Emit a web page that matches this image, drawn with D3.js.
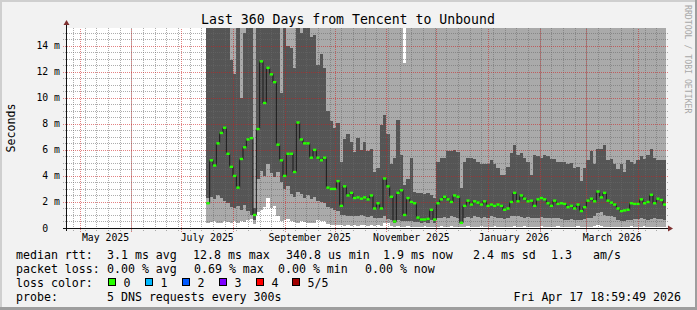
<!DOCTYPE html>
<html lang="en">
<head>
<meta charset="utf-8">
<title>Last 360 Days from Tencent to Unbound</title>
<script src="https://cdn.jsdelivr.net/npm/d3@7"></script>
<style>
  body { margin: 0; background: #f2f2f2; }
  svg { display: block; }
  text { font-family: "DejaVu Sans Mono", monospace; fill: #000; white-space: pre; }
</style>
</head>
<body>
<script>
// one consolidated point every 2 days, first one on 16 Jul 2025
var seriesStart = Date.UTC(2025, 6, 16);
var stepDays = 2;

// median rtt (ms)
var medianRtt = [
  1.9, 5.2, 4.8, 6.5, 7.3, 7.7, 5.7, 4.7, 4.0, 3.1,
  5.3, 6.2, 6.8, 6.9, 1.0, 7.6, 12.8, 9.6, 12.3, 11.8,
  11.2, 6.4, 5.2, 4.0, 5.7, 5.7, 4.3, 8.1, 6.8, 6.5,
  6.5, 5.4, 6.0, 5.4, 5.2, 5.4, 3.1, 3.0, 3.0, 3.6,
  1.7, 3.2, 2.5, 2.7, 2.3, 2.35, 2.25, 2.35, 2.2, 2.5,
  1.5, 1.9, 1.5, 3.8, 3.2, 2.4, 0.5, 2.7, 2.9, 1.0,
  2.3, 2.0, 1.9, 0.8, 0.65, 0.65, 0.7, 1.4, 0.65, 1.9,
  2.2, 2.4, 2.2, 2.0, 2.5, 2.4, 0.4, 1.7, 2.1, 1.8,
  2.05, 1.95, 1.8, 2.05, 1.7, 1.8, 1.7, 1.8, 1.7, 1.4,
  1.5, 2.0, 2.7, 2.05, 2.5, 2.25, 2.05, 2.1, 1.7, 2.2,
  2.3, 2.2, 1.9, 1.7, 2.1, 1.85, 1.9, 1.85, 1.6, 1.7,
  1.5, 1.8, 1.3, 1.6, 2.1, 2.25, 2.05, 2.8, 2.35, 2.7,
  2.1, 1.95, 1.8, 1.5, 1.3, 1.35, 1.4, 1.9, 1.85, 1.85,
  2.2, 1.9, 2.0, 2.55, 1.9, 2.25, 2.15, 1.8
];

// smoke: sorted pings 1, 2, 4, 5 (ms)
var ping1 = [
  0.4, 0.45, 0.5, 0.4, 0.35, 0.5, 0.45, 0.4, 0.55, 0.4,
  0.5, 0.45, 0.6, 0.7, 0.3, 1.2, 1.4, 1.6, 2.3, 1.5,
  1.7, 0.9, 0.5, 0.6, 0.7, 0.5, 0.45, 0.4, 0.5, 0.45,
  0.4, 0.35, 0.4, 0.6, 0.55, 0.5, 0.3, 0.25, 0.2, 0.25,
  0.2, 0.15, 0.2, 0.15, 0.2, 0.15, 0.2, 0.2, 0.15, 0.2,
  0.15, 0.2, 0.15, 0.4, 0.35, 0.15, 0.1, 0.15, 0.1, 0.1,
  0.15, 0.1, 0.1, 0.1, 0.1, 0.15, 0.1, 0.1, 0.1, 0.1,
  0.15, 0.1, 0.1, 0.15, 0.1, 0.1, 0.05, 0.1, 0.15, 0.1,
  0.1, 0.1, 0.15, 0.1, 0.1, 0.1, 0.15, 0.1, 0.1, 0.05,
  0.1, 0.1, 0.15, 0.1, 0.1, 0.15, 0.1, 0.1, 0.1, 0.1,
  0.15, 0.1, 0.1, 0.1, 0.1, 0.15, 0.1, 0.1, 0.1, 0.1,
  0.1, 0.15, 0.1, 0.1, 0.1, 0.1, 0.15, 0.2, 0.15, 0.1,
  0.1, 0.1, 0.1, 0.1, 0.1, 0.1, 0.1, 0.15, 0.1, 0.1,
  0.1, 0.15, 0.1, 0.1, 0.1, 0.1, 0.1, 0.1
];
var ping2 = [
  2.3, 2.4, 2.2, 2.5, 2.3, 2.1, 1.9, 1.6, 1.5, 1.7,
  1.4, 1.8, 1.3, 1.0, 0.6, 3.8, 4.4, 4.0, 4.9, 4.2,
  3.9, 4.3, 3.5, 3.0, 3.2, 2.6, 2.4, 2.8, 2.6, 2.3,
  2.5, 2.2, 2.4, 2.1, 2.0, 1.9, 1.6, 1.5, 1.4, 1.3,
  1.0, 1.0, 0.9, 0.9, 0.95, 0.9, 1.0, 0.9, 0.85, 0.9,
  0.8, 0.75, 0.8, 0.9, 0.7, 0.6, 0.35, 0.6, 0.55, 0.5,
  0.55, 0.5, 0.45, 0.45, 0.4, 0.45, 0.4, 0.6, 0.4, 0.8,
  0.8, 0.85, 0.8, 0.9, 0.85, 0.8, 0.35, 0.8, 0.85, 0.8,
  0.9, 0.85, 0.8, 0.85, 0.8, 0.9, 0.85, 0.8, 0.75, 0.7,
  0.75, 0.9, 0.95, 0.9, 0.85, 0.8, 0.85, 0.8, 0.75, 0.8,
  0.85, 0.8, 0.8, 0.8, 0.8, 0.75, 0.7, 0.65, 0.65, 0.7,
  0.65, 0.6, 0.65, 0.7, 0.75, 0.8, 0.9, 1.15, 1.2, 1.0,
  0.9, 0.9, 0.85, 0.6, 0.5, 0.55, 0.6, 0.65, 0.7, 0.7,
  0.75, 0.7, 0.65, 0.7, 0.75, 0.7, 0.7, 0.65
];
var ping4 = [
  17, 17, 17, 17, 17, 17, 17, 12.9, 11.8, 17,
  10.0, 15.0, 17, 17, 1.5, 17, 17, 17, 17, 17,
  17, 17, 10.4, 17, 14.0, 13.8, 12.3, 17, 15.0, 17,
  17, 14.7, 14.8, 12.5, 13.4, 12.3, 9.0, 8.2, 7.7, 8.1,
  5.1, 6.8, 7.2, 6.6, 5.8, 6.9, 6.0, 6.6, 5.9, 6.1,
  4.3, 4.6, 7.9, 8.7, 7.2, 4.9, 5.4, 8.3, 5.6, 3.3,
  3.8, 5.4, 2.8, 2.7, 2.7, 2.6, 2.7, 2.5, 2.3, 5.1,
  5.4, 5.4, 5.9, 5.9, 6.0, 5.8, 3.1, 5.1, 5.4, 5.4,
  5.3, 5.1, 4.9, 4.9, 4.9, 5.2, 4.9, 4.6, 4.1, 4.1,
  4.7, 5.75, 6.4, 5.6, 5.75, 5.4, 5.1, 4.1, 5.6, 5.5,
  5.4, 5.6, 5.5, 5.3, 5.3, 5.1, 5.1, 5.1, 4.9, 5.0,
  4.6, 4.7, 3.6, 4.6, 5.2, 5.9, 4.9, 6.1, 6.1, 6.4,
  5.2, 5.3, 4.9, 4.5, 4.9, 4.3, 5.2, 5.1, 4.9, 5.2,
  5.5, 5.3, 5.6, 6.1, 5.4, 5.2, 5.2, 5.2
];
var ping5 = [
  20, 20, 20, 20, 20, 20, 20, 20, 20, 20,
  20, 20, 20, 20, 20, 20, 20, 20, 20, 20,
  20, 20, 20, 20, 20, 20, 20, 20, 20, 20,
  20, 20, 20, 20, 20, 20, 20, 20, 20, 20,
  20, 20, 20, 20, 20, 20, 20, 20, 20, 20,
  20, 20, 20, 20, 20, 20, 20, 20, 20, 12.7,
  20, 20, 20, 20, 20, 20, 20, 20, 20, 20,
  20, 20, 20, 20, 20, 20, 20, 20, 20, 20,
  20, 20, 20, 20, 20, 20, 20, 20, 20, 20,
  20, 20, 20, 20, 20, 20, 20, 20, 20, 20,
  20, 20, 20, 20, 20, 20, 20, 20, 20, 20,
  20, 20, 20, 20, 20, 20, 20, 20, 20, 20,
  20, 20, 20, 20, 20, 20, 20, 20, 20, 20,
  20, 20, 20, 20, 20, 20, 20, 20
];

var yTickValues = [0, 2, 4, 6, 8, 10, 12, 14];
var yTickLabels = ["0  ", "2 m", "4 m", "6 m", "8 m", "10 m", "12 m", "14 m"];
var xTickMonths = ["2025-05", "2025-07", "2025-09", "2025-11", "2026-01", "2026-03"];
var xTickLabels = ["May 2025", "July 2025", "September 2025", "November 2025", "January 2026", "March 2026"];

var lossLevels = ["0", "1", "2", "3", "4", "5/5"];
var lossColors = ["#26ff00", "#00b8ff", "#0059ff", "#7e00ff", "#ff0000", "#a10000"];
var rttStats = ["3.1 ms avg", "12.8 ms max", "340.8 us min", "1.9 ms now", "2.4 ms sd", "1.3", "am/s"];
var lossStats = ["0.00 % avg", "0.69 % max", "0.00 % min", "0.00 % now"];

var W = 697, H = 310;
var L = 66, R = 666, T = 28, B = 228;
var DAY = 864e5;

var endTime = new Date(Date.UTC(2026, 3, 17, 18, 59, 49));
var startTime = new Date(endTime.getTime() - 360 * DAY);

var x = d3.scaleUtc().domain([startTime, endTime]).range([L, R]);
var y = d3.scaleLinear().domain([0, 15.36]).range([B, T]);

var pts = medianRtt.map(function(m, i) {
  return { t: new Date(seriesStart + i * stepDays * DAY), m: m,
           p1: ping1[i], p2: ping2[i], p4: ping4[i], p5: ping5[i] };
});
var last = pts[pts.length - 1];
var stepPts = pts.concat([Object.assign({}, last, { t: new Date(last.t.getTime() + stepDays * DAY) })]);

var svg = d3.select("body").append("svg")
  .attr("width", W).attr("height", H);

// frame
svg.append("rect").attr("width", W).attr("height", H).attr("fill", "#f2f2f2");
svg.append("rect").attr("width", W).attr("height", 2).attr("fill", "#cfcfcf");
svg.append("rect").attr("width", 2).attr("height", H).attr("fill", "#cfcfcf");
svg.append("rect").attr("x", W - 2).attr("width", 2).attr("height", H).attr("fill", "#9e9e9e");
svg.append("rect").attr("y", H - 3).attr("width", W).attr("height", 3).attr("fill", "#9e9e9e");

// canvas
svg.append("rect").attr("x", L).attr("y", T).attr("width", R - L).attr("height", B - T).attr("fill", "#fff");

svg.append("clipPath").attr("id", "plotclip")
  .append("rect").attr("x", L).attr("y", T).attr("width", R - L).attr("height", B - T);

// smoke
var smoke = svg.append("g").attr("clip-path", "url(#plotclip)").attr("shape-rendering", "crispEdges");
var bands = [
  { lo: "p1", hi: "p2", color: "#aaaaaa" },
  { lo: "p2", hi: "p4", color: "#555555" },
  { lo: "p4", hi: "p5", color: "#aaaaaa" }
];
bands.forEach(function(b) {
  var area = d3.area().curve(d3.curveStepAfter)
    .x(function(d) { return x(d.t); })
    .y0(function(d) { return y(d[b.lo]); })
    .y1(function(d) { return y(d[b.hi]); });
  smoke.append("path").datum(stepPts).attr("d", area).attr("fill", b.color);
});

// grid, dotted 1px on / 1px off, drawn over the smoke like rrdtool
var grid = svg.append("g").attr("fill", "none")
  .attr("stroke-width", 1).attr("stroke-dasharray", "1 1");
var minorY = d3.range(0.5, 15.2, 0.5).filter(function(v) { return v % 2 !== 0; });
var majorY = d3.range(2, 15, 2);
var minorX = d3.utcSunday.range(startTime, endTime);
var majorX = d3.utcMonth.range(startTime, endTime);
var minorColor = "rgba(105,105,105,0.55)";
var majorColor = "rgba(205,30,30,0.55)";

function hLines(vals, color) {
  var p = d3.path();
  vals.forEach(function(v) {
    var yy = Math.round(y(v)) + 0.5;
    p.moveTo(L - 3, yy); p.lineTo(R + 3, yy);
  });
  grid.append("path").attr("d", p.toString()).attr("stroke", color);
}
function vLines(vals, color, ext) {
  var p = d3.path();
  vals.forEach(function(v) {
    var xx = Math.round(x(v)) + 0.5;
    p.moveTo(xx, B + ext); p.lineTo(xx, T);
  });
  grid.append("path").attr("d", p.toString()).attr("stroke", color);
}
hLines(minorY, minorColor);
vLines(minorX, minorColor, 3);
hLines(majorY, majorColor);
vLines(majorX, majorColor, 4);

// median
var med = svg.append("g").attr("clip-path", "url(#plotclip)");
var medLine = d3.line().curve(d3.curveStepAfter)
  .x(function(d) { return x(d.t); })
  .y(function(d) { return y(d.m); });
med.append("path").datum(stepPts).attr("d", medLine)
  .attr("fill", "none").attr("stroke", "#1a1a1a").attr("stroke-width", 1);
med.selectAll("rect").data(pts).enter().append("rect")
  .attr("x", function(d) { return x(d.t); })
  .attr("width", function(d) { return x(new Date(d.t.getTime() + stepDays * DAY)) - x(d.t); })
  .attr("y", function(d) { return y(d.m) - 1.2; })
  .attr("height", 2.4)
  .attr("fill", lossColors[0]);

// axes
svg.append("line").attr("x1", L - 3).attr("x2", R + 3).attr("y1", B + 0.5).attr("y2", B + 0.5)
  .attr("stroke", "#111");
svg.append("line").attr("x1", L + 0.5).attr("x2", L + 0.5).attr("y1", B + 3).attr("y2", T - 4)
  .attr("stroke", "#111");
svg.append("path").attr("d", "M668,225.5L673,228.5L668,231.5Z").attr("fill", "#7f3131");
svg.append("path").attr("d", "M63.5,25L66.5,20L69.5,25Z").attr("fill", "#7f3131");

// y labels
svg.selectAll(".ylab").data(yTickValues).enter().append("text")
  .attr("x", 60).attr("y", function(d) { return y(d) + 3.5; })
  .attr("text-anchor", "end").attr("font-size", "9.8px")
  .text(function(d, i) { return yTickLabels[i]; });

// x labels, centred on the middle of the month
svg.selectAll(".xlab").data(xTickMonths).enter().append("text")
  .attr("x", function(d) {
    var m0 = d3.utcParse("%Y-%m")(d);
    return (x(m0) + x(d3.utcMonth.offset(m0, 1))) / 2;
  })
  .attr("y", 241).attr("text-anchor", "middle").attr("font-size", "9.8px")
  .text(function(d, i) { return xTickLabels[i]; });

// title and side texts
svg.append("text").attr("x", 348).attr("y", 24).attr("text-anchor", "middle")
  .attr("font-size", "13.2px").text("Last 360 Days from Tencent to Unbound");
svg.append("text").attr("transform", "translate(15,128) rotate(-90)")
  .attr("text-anchor", "middle").attr("font-size", "11.6px").text("Seconds");
svg.append("text").attr("transform", "translate(685,5) rotate(90)")
  .attr("font-size", "8.2px").style("fill", "#a8a8a8").text("RRDTOOL / TOBI OETIKER");

// legend
var lg = svg.append("g").attr("font-size", "11.6px");
var rttX = [107, 193, 286, 383, 473, 551, 593];
lg.append("text").attr("x", 16).attr("y", 258.5).text("median rtt:");
lg.selectAll(".rtt").data(rttStats).enter().append("text")
  .attr("x", function(d, i) { return rttX[i]; }).attr("y", 258.5).text(function(d) { return d; });

var lossX = [107, 194, 278, 365];
lg.append("text").attr("x", 16).attr("y", 272.5).text("packet loss:");
lg.selectAll(".loss").data(lossStats).enter().append("text")
  .attr("x", function(d, i) { return lossX[i]; }).attr("y", 272.5).text(function(d) { return d; });

var boxX = [108.5, 145.5, 182.5, 219.5, 256.5, 292.5];
lg.append("text").attr("x", 16).attr("y", 286.5).text("loss color:");
lg.selectAll(".box").data(lossLevels).enter().append("rect")
  .attr("x", function(d, i) { return boxX[i]; }).attr("y", 278.5)
  .attr("width", 7).attr("height", 7)
  .attr("fill", function(d, i) { return lossColors[i]; })
  .attr("stroke", "#000").attr("stroke-width", 1);
lg.selectAll(".boxlab").data(lossLevels).enter().append("text")
  .attr("x", function(d, i) { return boxX[i] + 15; }).attr("y", 286.5).text(function(d) { return d; });

lg.append("text").attr("x", 16).attr("y", 300.5).text("probe:");
lg.append("text").attr("x", 107).attr("y", 300.5).text("5 DNS requests every 300s");
lg.append("text").attr("x", 681).attr("y", 300.5).attr("text-anchor", "end").text("Fri Apr 17 18:59:49 2026");
</script>
</body>
</html>
